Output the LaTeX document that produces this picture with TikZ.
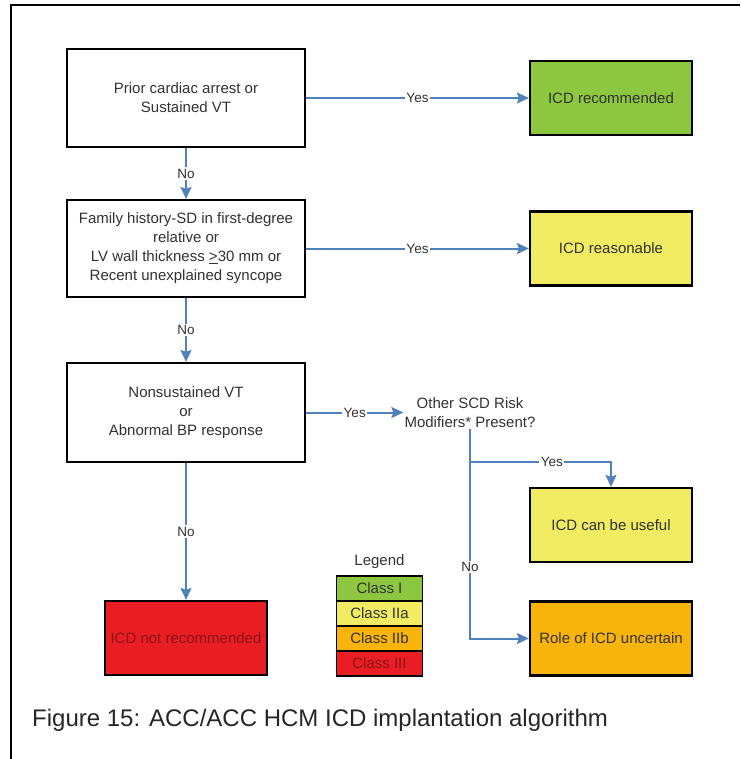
\documentclass[tikz,border=0pt]{standalone}
\usepackage{fontspec}
\setmainfont{Liberation Sans}
\usepackage{xcolor}
\usetikzlibrary{arrows.meta}

\definecolor{flowblue}{RGB}{79,129,189}
\definecolor{classI}{RGB}{141,198,63}
\definecolor{classIIa}{RGB}{241,236,98}
\definecolor{classIIb}{RGB}{248,180,10}
\definecolor{classIII}{RGB}{233,30,36}
\definecolor{boxtext}{RGB}{50,50,50}
\definecolor{redtext}{RGB}{140,20,20}

\begin{document}
\begin{tikzpicture}[x=1pt,y=-1pt,
  question/.style={draw,line width=2.2pt,fill=white,align=center,text=boxtext,minimum width=238pt,inner sep=0pt,font=\fontsize{15}{19}\selectfont},
  outcome/.style={draw,line width=2.2pt,align=center,text=boxtext,minimum width=162pt,minimum height=74pt,inner sep=0pt,font=\fontsize{15}{19}\selectfont},
  legendrow/.style={draw,line width=1.2pt,text=boxtext,minimum width=86pt,minimum height=25pt,inner sep=0pt,font=\fontsize{15}{19}\selectfont},
  flow/.style={draw=flowblue,line width=2pt,-{Stealth[length=12pt,width=11pt,inset=2pt]}},
  answer/.style={fill=white,inner sep=1.5pt,text=boxtext,font=\fontsize{13.5}{16}\selectfont}]

\useasboundingbox (0,0) rectangle (740,759);
\draw[line width=2pt] (10.5,759) -- (10.5,5.5) -- (740,5.5);


% 1
\node[question,minimum height=98pt] (PriorArrest) at (186,98) {Prior cardiac arrest or\\Sustained VT};
\node[outcome,fill=classI] (IcdRecommended) at (611,98) {ICD recommended};
\draw[flow] (PriorArrest) to node[answer,midway] {Yes} (IcdRecommended);


% 2
\node[question,minimum height=97pt] (FamilyHistory) at (186,248.5) {Family history-SD in first-degree\\relative or\\LV wall thickness \underline{>}30 mm or\\Recent unexplained syncope};
\node[outcome,fill=classIIa] (IcdReasonable) at (611,248.5) {ICD reasonable};
\draw[flow] (PriorArrest) to node[answer,midway] {No} (FamilyHistory);
\draw[flow] (FamilyHistory) to node[answer,midway] {Yes} (IcdReasonable);


% 3
\node[question,minimum height=99pt] (Nonsustained) at (186,412.5) {Nonsustained VT\\or\\Abnormal BP response};
\node[align=center,text=boxtext,inner sep=1pt,font=\fontsize{15}{19}\selectfont] (RiskModifiers) at (470,412.5) {Other SCD Risk\\Modifiers* Present?};
\draw[flow] (FamilyHistory) to node[answer,midway] {No} (Nonsustained);
\draw[flow] (Nonsustained) to node[answer,midway] {Yes} (RiskModifiers);

\node[outcome,fill=classIII,text=redtext] (IcdNotRecommended) at (186,638) {ICD not recommended};
\node[outcome,fill=classIIa] (CanBeUseful) at (611,525) {ICD can be useful};
\node[outcome,fill=classIIb] (RoleUncertain) at (611,638.5) {Role of ICD uncertain};

\draw[flow] (Nonsustained) to node[answer,midway] {No} (IcdNotRecommended);
\draw[flow] (RiskModifiers.south) |- (RoleUncertain.west) node[answer,pos=0.33] {No};
\coordinate (YesBranch) at (470,462);
\draw[flow] (YesBranch) -| (CanBeUseful.north) node[answer,pos=0.29] {Yes};


% legend
\node[text=boxtext,font=\fontsize{15}{19}\selectfont] (LegendTitle) at (379.5,562) {Legend};
\node[legendrow,fill=classI] (LegendI) at (379.5,588.5) {Class I};
\node[legendrow,fill=classIIa] (LegendIIa) at (379.5,613.5) {Class IIa};
\node[legendrow,fill=classIIb] (LegendIIb) at (379.5,638.5) {Class IIb};
\node[legendrow,fill=classIII,text=redtext] (LegendIII) at (379.5,663.5) {Class III};


\node[anchor=west,inner sep=0pt,text=black!85,font=\fontsize{24}{28}\selectfont] (Caption) at (32,720) {Figure 15: ACC/ACC HCM ICD implantation algorithm};

\end{tikzpicture}
\end{document}
